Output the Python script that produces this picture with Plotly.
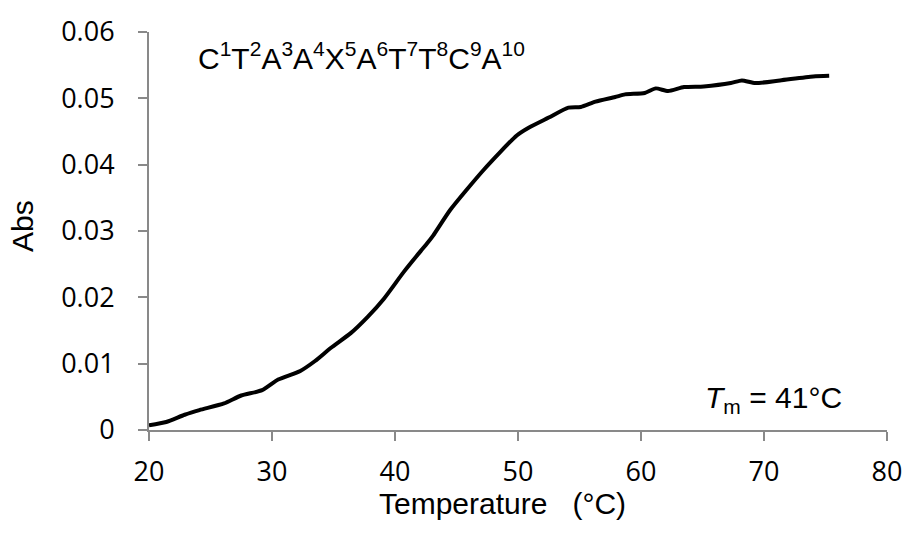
import plotly.graph_objects as go

# Melting curve: absorbance vs temperature
temperature = [20.0, 21.4, 22.9, 24.1, 26.1, 27.5, 29.2, 30.5, 32.3, 33.5,
               34.8, 36.4, 37.8, 39.1, 40.7, 42.1, 42.6, 43.1, 44.5, 47.2,
               49.9, 50.9, 52.5, 54.1, 55.1, 56.3, 57.9, 58.7, 60.3, 61.2,
               62.2, 63.5, 65.1, 67.3, 68.2, 69.3, 71.3, 74.0, 75.3]
absorbance = [0.0007, 0.0012, 0.0023, 0.0030, 0.0040, 0.0052, 0.0060, 0.0076,
              0.0089, 0.0104, 0.0124, 0.0146, 0.0171, 0.0198, 0.0238, 0.0270,
              0.0281, 0.0293, 0.0332, 0.0392, 0.0444, 0.0456, 0.0471, 0.0486,
              0.0487, 0.0495, 0.0502, 0.0506, 0.0508, 0.0515, 0.0511, 0.0517,
              0.0518, 0.0523, 0.0527, 0.0523, 0.0527, 0.0533, 0.0534]

x_ticks = [20, 30, 40, 50, 60, 70, 80]
y_ticks = [0, 0.01, 0.02, 0.03, 0.04, 0.05, 0.06]
y_tick_text = ["0", "0.01", "0.02", "0.03", "0.04", "0.05", "0.06"]

sequence_label = "C<sup>1</sup>T<sup>2</sup>A<sup>3</sup>A<sup>4</sup>X<sup>5</sup>A<sup>6</sup>T<sup>7</sup>T<sup>8</sup>C<sup>9</sup>A<sup>10</sup>"
tm_label = "<i>T</i><sub>m</sub> = 41°C"

axis_color = "#898989"
tick_font = dict(family="Open Sans", size=27, color="black")
text_font = dict(family="Liberation Sans, Arial", size=30, color="black")

fig = go.Figure()
fig.add_trace(go.Scatter(
    x=temperature, y=absorbance, mode="lines",
    line=dict(color="black", width=4, shape="spline", smoothing=0.6),
    showlegend=False, hoverinfo="skip",
))

fig.update_layout(
    width=914, height=533,
    margin=dict(l=149, r=19, t=27, b=103),
    paper_bgcolor="white", plot_bgcolor="white",
    xaxis=dict(
        range=[20, 80], tickvals=x_ticks, ticks="outside", ticklen=9,
        tickwidth=2, tickcolor=axis_color, showline=True, linecolor=axis_color,
        linewidth=2, showgrid=False, zeroline=False, tickfont=tick_font,
        ticklabelstandoff=8,
    ),
    yaxis=dict(
        range=[0, 0.06], tickvals=y_ticks, ticktext=y_tick_text, ticks="outside",
        ticklen=9, tickwidth=2, tickcolor=axis_color, showline=True,
        linecolor=axis_color, linewidth=2, showgrid=False, zeroline=False,
        tickfont=tick_font, ticklabelstandoff=18,
    ),
    annotations=[
        dict(text=sequence_label, xref="paper", yref="paper",
             x=(197 - 149) / 746, y=(430 - 30) / 403, xanchor="left", yanchor="top",
             showarrow=False, font=text_font),
        dict(text=tm_label, xref="paper", yref="paper",
             x=(852 - 149) / 746, y=(430 - 378) / 403, xanchor="right", yanchor="top",
             showarrow=False, font=text_font),
        dict(text="Temperature\u00a0\u00a0\u00a0(°C)", xref="paper", yref="paper",
             x=(506 - 149) / 746, y=(430 - 486) / 403, xanchor="center", yanchor="top",
             showarrow=False, font=text_font),
        dict(text="Abs", xref="paper", yref="paper", textangle=-90,
             x=(21 - 149) / 746, y=(430 - 223) / 403, xanchor="center", yanchor="middle",
             showarrow=False, font=text_font),
    ],
)

fig.write_html("out.html")
